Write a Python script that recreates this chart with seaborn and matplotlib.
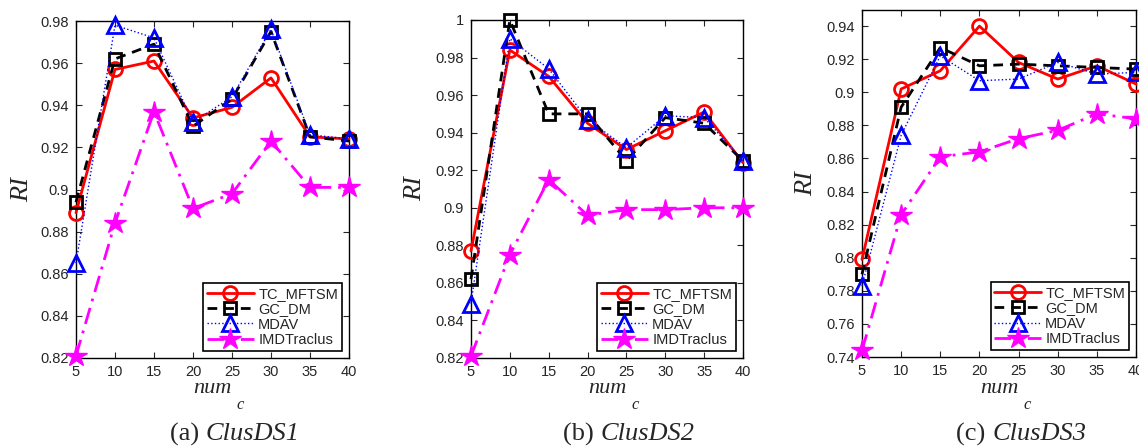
import numpy as np
import pandas as pd
import matplotlib
matplotlib.use("Agg")
import matplotlib.pyplot as plt
import seaborn as sns

num_c = [5, 10, 15, 20, 25, 30, 35, 40]
series = ["TC_MFTSM", "GC_DM", "MDAV", "IMDTraclus"]

ds1_tc = [0.889, 0.957, 0.961, 0.934, 0.939, 0.953, 0.925, 0.924]
ds1_gc = [0.894, 0.962, 0.969, 0.930, 0.943, 0.975, 0.925, 0.923]
ds1_mdav = [0.865, 0.978, 0.972, 0.932, 0.944, 0.976, 0.926, 0.924]
ds1_imd = [0.821, 0.884, 0.937, 0.891, 0.898, 0.923, 0.901, 0.901]

ds2_tc = [0.877, 0.984, 0.970, 0.945, 0.931, 0.941, 0.951, 0.924]
ds2_gc = [0.862, 1.000, 0.950, 0.950, 0.925, 0.948, 0.945, 0.925]
ds2_mdav = [0.849, 0.990, 0.974, 0.947, 0.932, 0.949, 0.948, 0.925]
ds2_imd = [0.821, 0.875, 0.915, 0.896, 0.899, 0.899, 0.900, 0.900]

ds3_tc = [0.799, 0.902, 0.913, 0.940, 0.918, 0.908, 0.916, 0.905]
ds3_gc = [0.790, 0.891, 0.927, 0.916, 0.917, 0.916, 0.915, 0.914]
ds3_mdav = [0.783, 0.874, 0.922, 0.907, 0.908, 0.918, 0.911, 0.912]
ds3_imd = [0.744, 0.826, 0.861, 0.864, 0.872, 0.877, 0.887, 0.884]

panels = [
    ("(a) ", "ClusDS1", [ds1_tc, ds1_gc, ds1_mdav, ds1_imd], (0.82, 0.98), [0.82, 0.84, 0.86, 0.88, 0.90, 0.92, 0.94, 0.96, 0.98]),
    ("(b) ", "ClusDS2", [ds2_tc, ds2_gc, ds2_mdav, ds2_imd], (0.82, 1.0), [0.82, 0.84, 0.86, 0.88, 0.90, 0.92, 0.94, 0.96, 0.98, 1.0]),
    ("(c) ", "ClusDS3", [ds3_tc, ds3_gc, ds3_mdav, ds3_imd], (0.74, 0.95), [0.74, 0.76, 0.78, 0.80, 0.82, 0.84, 0.86, 0.88, 0.90, 0.92, 0.94]),
]

styles = {
    "TC_MFTSM": dict(color="#ff0000", linestyle="-", marker="o", lw=2.0, mfc="none", ms=10, mew=2.0),
    "GC_DM": dict(color="#000000", linestyle=(0, (3.5, 2.5)), marker="s", lw=2.0, mfc="none", ms=8, mew=2.0),
    "MDAV": dict(color="#0000ff", linestyle=":", marker="^", lw=1.0, mfc="none", ms=11, mew=2.0),
    "IMDTraclus": dict(color="#ff00ff", linestyle=(0, (6, 2.5, 1, 2.5)), marker="*", lw=2.0, mfc="#ff00ff", ms=16, mew=1.0),
}

sns.set_theme(style="ticks")
plt.rcParams["font.family"] = ["Liberation Sans", "DejaVu Sans"]

fig = plt.figure(figsize=(11.39, 4.48), dpi=100)
rects = [
    [0.0667, 0.2009, 0.2397, 0.7522],
    [0.4135, 0.2009, 0.2388, 0.7545],
    [0.7568, 0.2030, 0.2406, 0.7757],
]
ylab_x = [22, 415, 806]

def fmt(v):
    s = "%g" % round(v, 2)
    return s

for i, (pre, name, vals, ylim, yt) in enumerate(panels):
    ax = fig.add_axes(rects[i])
    for s, v in zip(series, vals):
        st = styles[s]
        df = pd.DataFrame({"x": num_c, "y": v})
        sns.lineplot(data=df, x="x", y="y", ax=ax, color=st["color"],
                     linestyle=st["linestyle"], marker=st["marker"], lw=st["lw"],
                     markerfacecolor=st["mfc"], markeredgecolor=st["color"],
                     markersize=st["ms"], markeredgewidth=st["mew"], label=s,
                     clip_on=False, zorder=3)
    ax.set_xlim(5, 40)
    ax.set_ylim(*ylim)
    ax.set_xticks(num_c)
    ax.set_xticklabels([str(x) for x in num_c], fontsize=10.5)
    ax.set_yticks(yt)
    ax.set_yticklabels([fmt(v) for v in yt], fontsize=10.5)
    ax.tick_params(direction="in", top=True, right=True, length=4, width=0.8, pad=5)
    for sp in ax.spines.values():
        sp.set_linewidth(1.0)
        sp.set_color("black")
    ax.set_xlabel("")
    ax.set_ylabel("")
    ax.grid(False)
    # axis labels
    bb = ax.get_position()
    cx = (bb.x0 + bb.x1) / 2
    fig.text(cx, 1 - 388 / 448, "num", ha="center", va="center", fontsize=16,
             family="Liberation Serif", style="italic")
    fig.text(cx + 0.0245, 1 - 405 / 448, "c", ha="center", va="center", fontsize=12,
             family="Liberation Serif", style="italic")
    fig.text(ylab_x[i] / 1139, (bb.y0 + bb.y1) / 2, "RI", rotation=90, ha="center", va="center",
             fontsize=19, family="Liberation Serif", style="italic")
    # caption
    fig.text(cx - 0.006, 1 - 434 / 448, pre, ha="right", va="center", fontsize=19,
             family="Liberation Serif")
    fig.text(cx - 0.006, 1 - 434 / 448, name, ha="left", va="center", fontsize=19,
             family="Liberation Serif", style="italic")
    leg = ax.legend(loc="lower right", fontsize=10.5, frameon=True, fancybox=False,
                    edgecolor="black", framealpha=1, borderpad=0.25, labelspacing=0.1,
                    handlelength=3.2, handletextpad=0.3, borderaxespad=0.5)
    leg.get_frame().set_linewidth(1.2)

fig.savefig("out.png", dpi=100)
